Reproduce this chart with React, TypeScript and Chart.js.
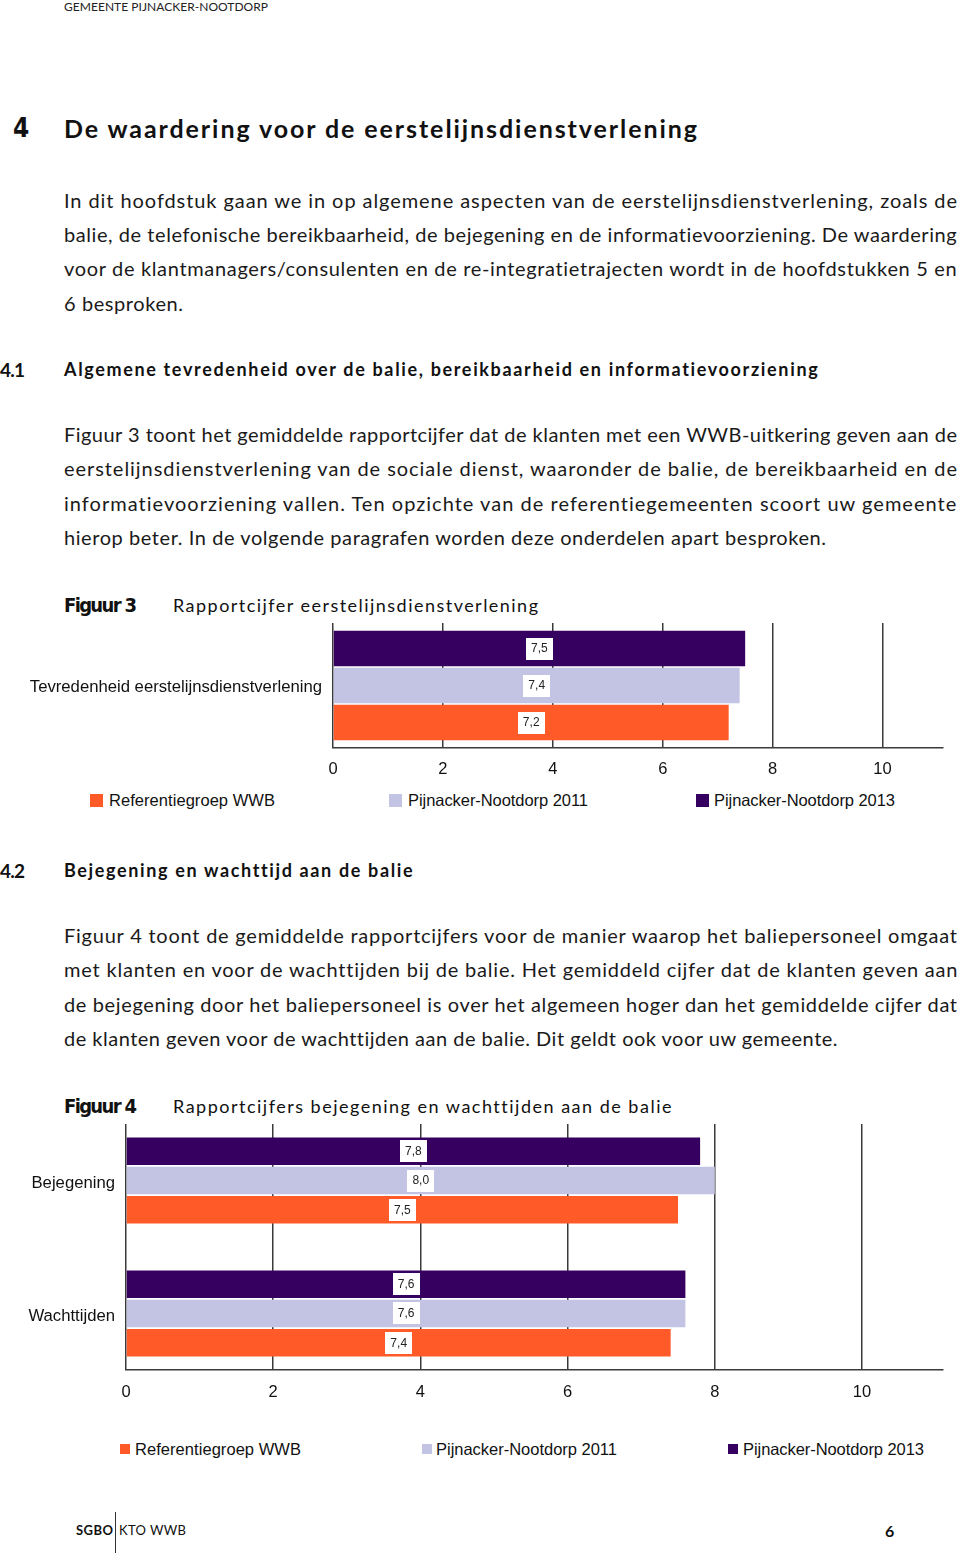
import React, { useEffect, useLayoutEffect, useRef } from "react";
import { Chart, registerables } from "chart.js";

Chart.register(...registerables);

// ---------- data ----------
const SERIES_NAMES = ["Referentiegroep WWB", "Pijnacker-Nootdorp 2011", "Pijnacker-Nootdorp 2013"];
const SERIES_COLORS = ["#ff5a28", "#c3c3e4", "#35005f"];

const FIG3_CATEGORIES = ["Tevredenheid eerstelijnsdienstverlening"];
const FIG3_REFERENTIE = [7.2];
const FIG3_PN2011 = [7.4];
const FIG3_PN2013 = [7.5];

const FIG4_CATEGORIES = ["Bejegening", "Wachttijden"];
const FIG4_REFERENTIE = [7.5, 7.4];
const FIG4_PN2011 = [8.0, 7.6];
const FIG4_PN2013 = [7.8, 7.6];

const X_TICKS = [0, 2, 4, 6, 8, 10];
const X_MIN = 0;
const X_MAX = 11.1;

// ---------- styling ----------
const GRID = "#3a3a3a";
const ARIAL = "'Liberation Sans', Arial, Helvetica, sans-serif";
const BODY = "Lato, 'Open Sans', sans-serif";
const NARROW = "'Liberation Sans Narrow', 'DejaVu Sans Condensed', 'Liberation Sans', sans-serif";

const valueLabelPlugin = {
  id: "valueLabels",
  afterDatasetsDraw(chart: any) {
    const ctx = chart.ctx;
    ctx.save();
    ctx.font = "12px " + ARIAL;
    ctx.textAlign = "center";
    ctx.textBaseline = "middle";
    chart.data.datasets.forEach((ds: any, di: number) => {
      const meta = chart.getDatasetMeta(di);
      meta.data.forEach((el: any, i: number) => {
        const v = ds.data[i] as number;
        const txt = v.toFixed(1).replace(".", ",");
        const p = el.getProps(["x", "y", "base"], true);
        const cx = (p.x + p.base) / 2;
        const w = Math.round(ctx.measureText(txt).width + 10);
        const h = 22;
        ctx.fillStyle = "#ffffff";
        ctx.fillRect(Math.round(cx - w / 2), Math.round(p.y - h / 2), w, h);
        ctx.fillStyle = "#222222";
        ctx.fillText(txt, cx, p.y + 0.5);
      });
    });
    ctx.restore();
  },
};

type ChartOpts = {
  padTop: number;
  xAxisHeight: number;
  yAxisWidth: number;
  tickPad: number;
  barPct: number;
  catPct: number;
  labelShift: number;
  catRange?: number; // span (in category units) covered by the plot area
};

function makeConfig(categories: string[], d13: number[], d11: number[], dref: number[], o: ChartOpts): any {
  return {
    type: "bar",
    data: {
      labels: categories,
      datasets: [
        { label: SERIES_NAMES[2], data: d13, backgroundColor: SERIES_COLORS[2] },
        { label: SERIES_NAMES[1], data: d11, backgroundColor: SERIES_COLORS[1] },
        { label: SERIES_NAMES[0], data: dref, backgroundColor: SERIES_COLORS[0] },
      ],
    },
    options: {
      indexAxis: "y",
      animation: false,
      responsive: false,
      maintainAspectRatio: false,
      layout: { padding: { top: o.padTop, right: 17, left: 0, bottom: 0 } },
      datasets: {
        bar: { barPercentage: o.barPct, categoryPercentage: o.catPct, borderWidth: 0 },
      },
      plugins: { legend: { display: false }, tooltip: { enabled: false }, title: { display: false } },
      scales: {
        x: {
          type: "linear",
          min: X_MIN,
          max: X_MAX,
          afterFit: (s: any) => {
            s.height = o.xAxisHeight;
            s.paddingLeft = 0;
            s.paddingRight = 0;
          },
          afterBuildTicks: (s: any) => {
            s.ticks = X_TICKS.map((v) => ({ value: v }));
          },
          grid: { color: GRID, lineWidth: 1.5, drawTicks: false },
          border: { display: true, color: GRID, width: 1.5 },
          ticks: { padding: o.tickPad, color: "#111", font: { family: ARIAL, size: 16.5 } },
        },
        y: {
          afterBuildTicks: (s: any) => {
            if (o.catRange) {
              const n = categories.length;
              s._valueRange = o.catRange;
              s._startValue = (n - 1) / 2 - o.catRange / 2;
            }
          },
          afterFit: (s: any) => {
            s.width = o.yAxisWidth;
            s.paddingTop = 0;
            s.paddingBottom = 0;
          },
          grid: { display: false, drawTicks: false },
          border: { display: false },
          ticks: {
            padding: 11,
            labelOffset: o.labelShift,
            color: "#111",
            font: { family: ARIAL, size: 16.7 },
          },
        },
      },
    },
    plugins: [valueLabelPlugin],
  };
}

function BarChart(props: {
  top: number;
  height: number;
  categories: string[];
  d13: number[];
  d11: number[];
  dref: number[];
  opts: ChartOpts;
}) {
  const ref = useRef<HTMLCanvasElement>(null);
  useEffect(() => {
    if (!ref.current) return;
    const chart = new Chart(ref.current, makeConfig(props.categories, props.d13, props.d11, props.dref, props.opts));
    return () => chart.destroy();
  }, []);
  return (
    <canvas
      ref={ref}
      width={960}
      height={props.height}
      style={{ position: "absolute", left: 0, top: props.top, width: 960, height: props.height }}
    />
  );
}

// ---------- text helpers ----------
function FitText(props: {
  text: string;
  left: number;
  cy: number;
  size: number;
  width?: number;
  family?: string;
  weight?: number | string;
  color?: string;
}) {
  const ref = useRef<HTMLSpanElement>(null);
  useLayoutEffect(() => {
    const fit = () => {
      const el = ref.current;
      if (!el || !props.width) return;
      el.style.letterSpacing = "0px";
      const w = el.getBoundingClientRect().width;
      const n = Math.max(1, props.text.length - 1);
      el.style.letterSpacing = (props.width - w) / n + "px";
    };
    fit();
    if ((document as any).fonts && (document as any).fonts.ready) {
      (document as any).fonts.ready.then(fit);
    }
  }, []);
  const H = Math.round(props.size * 1.3);
  return (
    <span
      ref={ref}
      style={{
        position: "absolute",
        left: props.left,
        top: props.cy - H / 2,
        height: H,
        lineHeight: H + "px",
        fontSize: props.size,
        fontFamily: props.family || BODY,
        fontWeight: (props.weight as any) || 400,
        color: props.color || "#111",
        whiteSpace: "nowrap",
      }}
    >
      {props.text}
    </span>
  );
}

function Legend(props: { cy: number; sq: number; items: { x: number; tx: number; w: number }[] }) {
  return (
    <>
      {props.items.map((it, i) => (
        <React.Fragment key={i}>
          <div
            style={{
              position: "absolute",
              left: it.x,
              top: props.cy - props.sq / 2,
              width: props.sq,
              height: props.sq,
              background: SERIES_COLORS[i],
            }}
          />
          <FitText text={SERIES_NAMES[i]} left={it.tx} cy={props.cy} size={16.5} width={it.w} family={ARIAL} />
        </React.Fragment>
      ))}
    </>
  );
}

const PARA1 = [
  "In dit hoofdstuk gaan we in op algemene aspecten van de eerstelijnsdienstverlening, zoals de",
  "balie, de telefonische bereikbaarheid, de bejegening en de informatievoorziening. De waardering",
  "voor de klantmanagers/consulenten en de re-integratietrajecten wordt in de hoofdstukken 5 en",
  "6 besproken.",
];
const PARA2 = [
  "Figuur 3 toont het gemiddelde rapportcijfer dat de klanten met een WWB-uitkering geven aan de",
  "eerstelijnsdienstverlening van de sociale dienst, waaronder de balie, de bereikbaarheid en de",
  "informatievoorziening vallen. Ten opzichte van de referentiegemeenten scoort uw gemeente",
  "hierop beter. In de volgende paragrafen worden deze onderdelen apart besproken.",
];
const PARA3 = [
  "Figuur 4 toont de gemiddelde rapportcijfers voor de manier waarop het baliepersoneel omgaat",
  "met klanten en voor de wachttijden bij de balie. Het gemiddeld cijfer dat de klanten geven aan",
  "de bejegening door het baliepersoneel is over het algemeen hoger dan het gemiddelde cijfer dat",
  "de klanten geven voor de wachttijden aan de balie. Dit geldt ook voor uw gemeente.",
];
const PARA1_Y = [200, 234, 268, 303];
const PARA2_Y = [434, 468, 503, 537];
const PARA3_Y = [935, 969, 1004, 1038];
const PARA1_W = [893, 893, 893, 119];
const PARA2_W = [893, 893, 893, 762];
const PARA3_W = [893, 893, 893, 773];

function Para(props: { lines: string[]; ys: number[]; ws: number[]; k: string }) {
  return (
    <>
      {props.lines.map((t, i) => (
        <FitText key={props.k + i} text={t} left={64} cy={props.ys[i]} size={20} width={props.ws[i]} color="#1a1a1a" />
      ))}
    </>
  );
}

export default function App() {
  return (
    <div
      style={{
        position: "absolute",
        left: 0,
        top: 0,
        width: 960,
        height: 1554,
        background: "#fff",
        overflow: "hidden",
      }}
    >
      <FitText text="GEMEENTE PIJNACKER-NOOTDORP" left={64} cy={7} size={12} width={204} color="#222" />

      <FitText text="4" left={13} cy={128} size={26} weight={700} family={NARROW} />
      <FitText text="De waardering voor de eerstelijnsdienstverlening" left={64} cy={128} size={25} width={633} weight={700} />

      <Para lines={PARA1} ys={PARA1_Y} ws={PARA1_W} k="p1" />

      <FitText text="4.1" left={0} cy={369} size={19} width={25} weight={700} />
      <FitText
        text="Algemene tevredenheid over de balie, bereikbaarheid en informatievoorziening"
        left={64}
        cy={369}
        size={18}
        width={754}
        weight={700}
      />

      <Para lines={PARA2} ys={PARA2_Y} ws={PARA2_W} k="p2" />

      <FitText text="Figuur 3" left={64} cy={605} size={20} width={73} weight={700} family={NARROW} />
      <FitText text="Rapportcijfer eerstelijnsdienstverlening" left={173} cy={605} size={18} width={365} />

      <BarChart
        top={615}
        height={170}
        categories={FIG3_CATEGORIES}
        d13={FIG3_PN2013}
        d11={FIG3_PN2011}
        dref={FIG3_REFERENTIE}
        opts={{ padTop: 8, xAxisHeight: 37, yAxisWidth: 333, tickPad: 12, barPct: 0.96, catPct: 0.888, labelShift: 2 }}
      />
      <Legend
        cy={800}
        sq={13}
        items={[
          { x: 90, tx: 109, w: 166 },
          { x: 389, tx: 408, w: 180 },
          { x: 696, tx: 714, w: 181 },
        ]}
      />

      <FitText text="4.2" left={0} cy={870} size={19} width={25} weight={700} />
      <FitText text="Bejegening en wachttijd aan de balie" left={64} cy={870} size={18} width={348} weight={700} />

      <Para lines={PARA3} ys={PARA3_Y} ws={PARA3_W} k="p3" />

      <FitText text="Figuur 4" left={64} cy={1106} size={20} width={73} weight={700} family={NARROW} />
      <FitText text="Rapportcijfers bejegening en wachttijden aan de balie" left={173} cy={1106} size={18} width={498} />

      <BarChart
        top={1115}
        height={295}
        categories={FIG4_CATEGORIES}
        d13={FIG4_PN2013}
        d11={FIG4_PN2011}
        dref={FIG4_REFERENTIE}
        opts={{
          padTop: 9,
          xAxisHeight: 40,
          yAxisWidth: 126,
          tickPad: 13,
          barPct: 0.94,
          catPct: 0.66,
          catRange: 1.85,
          labelShift: 3,
        }}
      />
      <Legend
        cy={1449}
        sq={10}
        items={[
          { x: 120, tx: 135, w: 166 },
          { x: 422, tx: 436, w: 181 },
          { x: 728, tx: 743, w: 181 },
        ]}
      />

      <FitText text="SGBO" left={76} cy={1530} size={13} width={37} weight={700} />
      <div style={{ position: "absolute", left: 115, top: 1512, width: 1, height: 41, background: "#333" }} />
      <FitText text="KTO WWB" left={119} cy={1530} size={13} width={67} />
      <FitText text="6" left={885} cy={1530} size={16} weight={700} />
    </div>
  );
}
